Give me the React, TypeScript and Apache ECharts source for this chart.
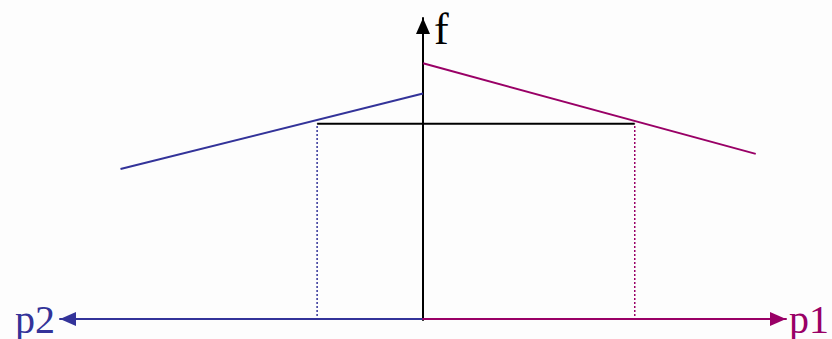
import React, { useEffect, useRef } from "react";
import * as echarts from "echarts";

// Axis extents (data units)
const P_MAX = 12; // length of each price axis (p1 to the right, p2 to the left)
const F_MAX = 10; // length of the f axis

// Demand-like curves: [price, f]
const p2Curve: [number, number][] = [
  [10, 5.0],
  [0, 7.5],
];
const p1Curve: [number, number][] = [
  [0, 8.5],
  [11, 5.5],
];

// Common level and the two prices where it is reached
const fLevel = 6.5;
const p2Star = 3.5;
const p1Star = 7;

const BLUE = "#333399";
const RED = "#990066";
const BLACK = "#000000";
const SERIF = "'Liberation Serif', 'Times New Roman', serif";

const hidden = {
  axisTick: { show: false },
  axisLabel: { show: false },
  splitLine: { show: false },
};

export default function App() {
  const ref = useRef<HTMLDivElement>(null);

  useEffect(() => {
    if (!ref.current) return;
    const chart = echarts.init(ref.current, null, { renderer: "svg" });

    const left = 60;
    const right = 46;
    const top = 18;
    const bottom = 19;
    const half = (832 - left - right) / 2;

    const toX2 = (p: number) => -p;
    const arrowSize = [14, 16];

    chart.setOption({
      animation: false,
      backgroundColor: "#fdfdfd",
      grid: [
        { left, right, top, bottom },
        { left, width: half, top, bottom },
        { left: left + half, right, top, bottom },
      ],
      xAxis: [
        {
          gridIndex: 0,
          type: "value",
          min: -P_MAX,
          max: P_MAX,
          axisLine: { show: false },
          ...hidden,
        },
        {
          gridIndex: 1,
          type: "value",
          min: -P_MAX,
          max: 0,
          position: "bottom",
          axisLine: {
            show: true,
            onZero: false,
            symbol: ["triangle", "none"],
            symbolSize: arrowSize,
            symbolOffset: [8, 0],
            lineStyle: { color: BLUE, width: 2 },
          },
          name: "p2",
          nameLocation: "start",
          nameGap: 5,
          nameTextStyle: {
            color: BLUE,
            fontSize: 40,
            fontFamily: SERIF,
            lineHeight: 30,
            padding: [0, 0, 8, 0],
          },
          ...hidden,
        },
        {
          gridIndex: 2,
          type: "value",
          min: 0,
          max: P_MAX,
          position: "bottom",
          axisLine: {
            show: true,
            onZero: false,
            symbol: ["none", "triangle"],
            symbolSize: arrowSize,
            symbolOffset: [0, -8],
            lineStyle: { color: RED, width: 2 },
          },
          name: "p1",
          nameLocation: "end",
          nameGap: 3,
          nameTextStyle: {
            color: RED,
            fontSize: 40,
            fontFamily: SERIF,
            lineHeight: 30,
            padding: [0, 0, 8, 0],
          },
          ...hidden,
        },
      ],
      yAxis: [
        {
          gridIndex: 0,
          type: "value",
          min: 0,
          max: F_MAX,
          axisLine: {
            show: true,
            onZero: true,
            symbol: ["none", "triangle"],
            symbolSize: arrowSize,
            symbolOffset: [0, -8],
            lineStyle: { color: BLACK, width: 2 },
          },
          name: "f",
          nameLocation: "end",
          nameGap: -11,
          nameTextStyle: {
            color: BLACK,
            fontSize: 44,
            fontFamily: SERIF,
            align: "left",
            verticalAlign: "middle",
            padding: [0, 0, 0, 11],
          },
          ...hidden,
        },
        { gridIndex: 1, type: "value", min: 0, max: F_MAX, show: false },
        { gridIndex: 2, type: "value", min: 0, max: F_MAX, show: false },
      ],
      series: [
        {
          name: "p2 curve",
          type: "line",
          xAxisIndex: 0,
          yAxisIndex: 0,
          symbol: "none",
          data: p2Curve.map(([p, f]) => [toX2(p), f]),
          lineStyle: { color: BLUE, width: 2 },
        },
        {
          name: "p1 curve",
          type: "line",
          xAxisIndex: 0,
          yAxisIndex: 0,
          symbol: "none",
          data: p1Curve.map(([p, f]) => [p, f]),
          lineStyle: { color: RED, width: 2 },
        },
        {
          name: "p2 drop",
          type: "line",
          xAxisIndex: 0,
          yAxisIndex: 0,
          symbol: "none",
          data: [
            [toX2(p2Star), 0],
            [toX2(p2Star), fLevel],
          ],
          lineStyle: { color: BLUE, width: 1.5, type: [2, 2] },
        },
        {
          name: "p1 drop",
          type: "line",
          xAxisIndex: 0,
          yAxisIndex: 0,
          symbol: "none",
          data: [
            [p1Star, 0],
            [p1Star, fLevel],
          ],
          lineStyle: { color: RED, width: 1.5, type: [2, 2] },
        },
        {
          name: "level",
          type: "line",
          xAxisIndex: 0,
          yAxisIndex: 0,
          symbol: "none",
          data: [
            [toX2(p2Star), fLevel],
            [p1Star, fLevel],
          ],
          lineStyle: { color: BLACK, width: 2 },
        },
      ],
    });

    return () => chart.dispose();
  }, []);

  return (
    <div
      ref={ref}
      style={{ position: "absolute", left: 0, top: 0, width: 832, height: 339 }}
    />
  );
}
